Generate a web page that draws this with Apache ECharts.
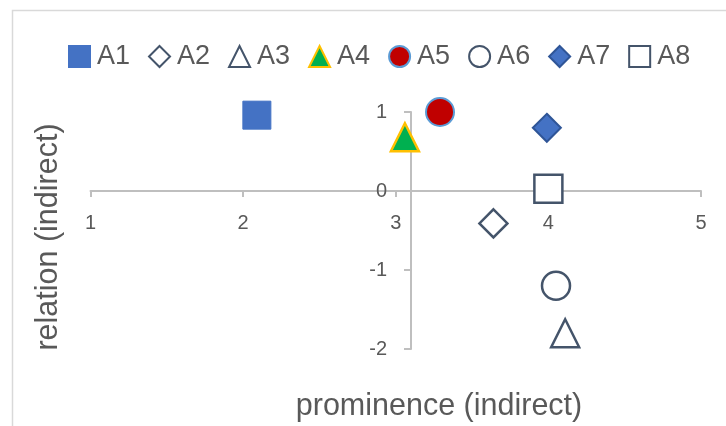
<!DOCTYPE html>
<html>
<head>
<meta charset="utf-8">
<script src="https://cdn.jsdelivr.net/npm/echarts@6/dist/echarts.min.js"></script>
<style>
  html, body { margin: 0; padding: 0; background: #fff; }
  #chart { width: 726px; height: 426px; }
</style>
</head>
<body>
<div id="chart"></div>
<script>
// Alternatives and their (prominence, relation) coordinates
const categories = ['A1', 'A2', 'A3', 'A4', 'A5', 'A6', 'A7', 'A8'];
const prominence = [2.09, 3.64, 4.11, 3.06, 3.29, 4.05, 3.99, 4.00];
const relation   = [0.96, -0.41, -1.80, 0.68, 1.00, -1.20, 0.80, 0.03];

// Axis ranges
const xMin = 1, xMax = 5, xStep = 1;
const yMin = -2, yMax = 1, yStep = 1;
const yAxisCrossesAt = 3.1;   // vertical axis crosses the horizontal one here
const xAxisCrossesAt = 0;     // horizontal axis crosses the vertical one here

const xTitle = 'prominence (indirect)';
const yTitle = 'relation (indirect)';

// Marker appearance for each alternative
const markerStyles = [
  { symbol: 'rect',     fill: '#4472C4', stroke: '#4472C4', width: 1 },
  { symbol: 'diamond',  fill: '#FFFFFF', stroke: '#44546A', width: 2.5 },
  { symbol: 'triangle', fill: '#FFFFFF', stroke: '#44546A', width: 2.5 },
  { symbol: 'triangle', fill: '#00B050', stroke: '#FFC000', width: 2.5 },
  { symbol: 'circle',   fill: '#C00000', stroke: '#5B9BD5', width: 2 },
  { symbol: 'circle',   fill: '#FFFFFF', stroke: '#44546A', width: 2.5 },
  { symbol: 'diamond',  fill: '#4472C4', stroke: '#2F5597', width: 2 },
  { symbol: 'rect',     fill: '#FFFFFF', stroke: '#44546A', width: 2.5 }
];

const W = 726, H = 426;
const grid = { left: 90.5, right: 25, top: 112, bottom: 77 };
const gridW = W - grid.left - grid.right;
const gridH = H - grid.top - grid.bottom;
// Shift each axis (line, ticks and labels together) to its crossing point
const yAxisOffset = -(yAxisCrossesAt - xMin) / (xMax - xMin) * gridW;
const xAxisOffset = -(xAxisCrossesAt - yMin) / (yMax - yMin) * gridH;

const textColor = '#595959';
const axisColor = '#BFBFBF';
const font = 'Liberation Sans, Arial, sans-serif';

const series = categories.map((name, i) => ({
  name: name,
  type: 'scatter',
  symbol: markerStyles[i].symbol,
  symbolSize: 28,
  data: [[prominence[i], relation[i]]],
  itemStyle: {
    color: markerStyles[i].fill,
    borderColor: markerStyles[i].stroke,
    borderWidth: markerStyles[i].width,
    opacity: 1
  },
  emphasis: { disabled: true }
}));

const chart = echarts.init(document.getElementById('chart'), null, { renderer: 'canvas' });
chart.setOption({
  animation: false,
  backgroundColor: '#fff',
  grid: grid,
  legend: {
    left: 63,
    top: 38,
    itemWidth: 21,
    itemHeight: 21,
    itemGap: 18,
    data: categories,
    textStyle: { color: textColor, fontSize: 27, fontFamily: font, padding: [0, 0, 0, 2] }
  },
  xAxis: {
    type: 'value',
    min: xMin, max: xMax, interval: xStep,
    position: 'bottom',
    offset: xAxisOffset,
    axisLine: { onZero: false, lineStyle: { color: axisColor, width: 2 } },
    axisTick: { show: true, length: 6, lineStyle: { color: axisColor, width: 2 } },
    axisLabel: { color: textColor, fontSize: 20, fontFamily: font, margin: 22 },
    splitLine: { show: false }
  },
  yAxis: {
    type: 'value',
    min: yMin, max: yMax, interval: yStep,
    position: 'left',
    offset: yAxisOffset,
    axisLine: { show: true, onZero: false, lineStyle: { color: axisColor, width: 2 } },
    axisTick: { show: true, length: 7, lineStyle: { color: axisColor, width: 2 } },
    axisLabel: { color: textColor, fontSize: 20, fontFamily: font, margin: 24 },
    splitLine: { show: false }
  },
  graphic: [
    {
      type: 'rect',
      shape: { x: 12.5, y: 10.5, width: W + 20, height: H + 20 },
      style: { fill: 'none', stroke: '#D9D9D9', lineWidth: 1.5 },
      silent: true
    },
    {
      type: 'text',
      x: 439, y: 407,
      style: {
        text: xTitle, fill: textColor, fontSize: 30.5, fontFamily: font,
        textAlign: 'center', textVerticalAlign: 'middle'
      },
      silent: true
    },
    {
      type: 'text',
      x: 49, y: 237,
      rotation: Math.PI / 2,
      style: {
        text: yTitle, fill: textColor, fontSize: 30.5, fontFamily: font,
        textAlign: 'center', textVerticalAlign: 'middle'
      },
      silent: true
    }
  ],
  series: series
});
</script>
</body>
</html>
